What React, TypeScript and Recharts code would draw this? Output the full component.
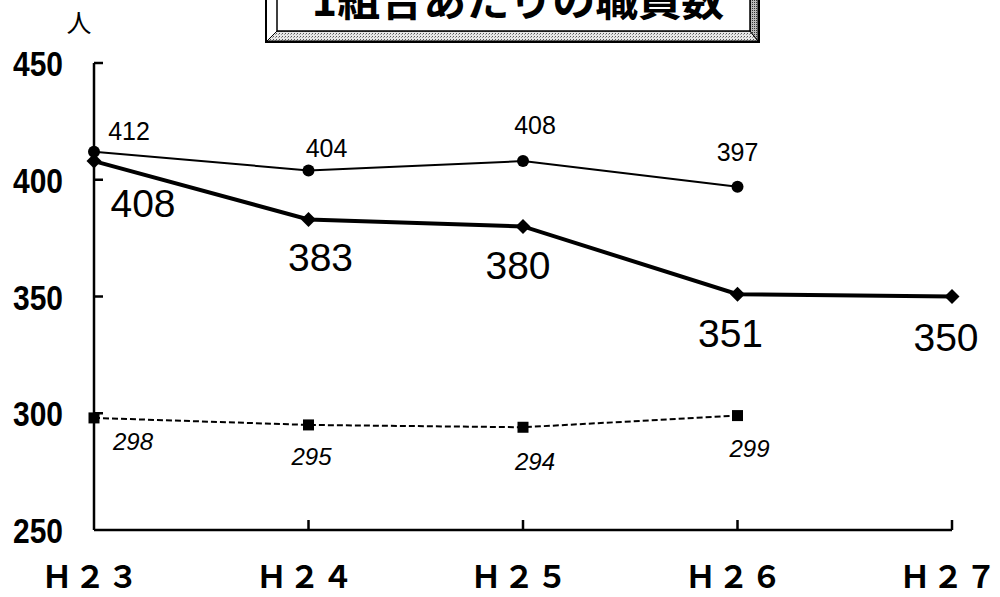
import React from 'react';
import { LineChart, Line, XAxis, YAxis } from 'recharts';

// values
const years = ['Ｈ２３', 'Ｈ２４', 'Ｈ２５', 'Ｈ２６', 'Ｈ２７'];
const circleSeries = [412, 404, 408, 397, null];
const diamondSeries = [408, 383, 380, 351, 350];
const squareSeries = [298, 295, 294, 299, null];
const yTicks = [250, 300, 350, 400, 450];

// label nudges (px) relative to each point, per series
const circleLabelShift = [[35, -21], [18, -22], [12, -36], [0, -35]];
const diamondLabelShift = [[49, 42], [12, 38], [-5, 39], [-7, 39], [-6, 41]];
const squareLabelShift = [[39, 24], [3, 32], [12, 34], [12, 33]];

const NUM_FONT = '"Liberation Sans", Arial, sans-serif';
const JP_FONT = '"Noto Sans CJK JP", sans-serif';

const data = years.map((year, i) => ({
  year,
  circle: circleSeries[i],
  diamond: diamondSeries[i],
  square: squareSeries[i],
}));

const makeLabel = (shift: number[][], size: number, italic = false) => (props: any) => {
  const { x, y, value, index } = props;
  if (value == null || !shift[index]) return null;
  const [dx, dy] = shift[index];
  return (
    <text
      x={x + dx}
      y={y + dy}
      textAnchor="middle"
      dominantBaseline="central"
      fontFamily={NUM_FONT}
      fontSize={size}
      fontStyle={italic ? 'italic' : 'normal'}
      fill="#000"
    >
      {value}
    </text>
  );
};

const CircleDot = (props: any) => {
  const { cx, cy, value } = props;
  if (value == null) return <g key={props.index} />;
  return <circle key={props.index} cx={cx} cy={cy} r={6} fill="#000" />;
};

const DiamondDot = (props: any) => {
  const { cx, cy } = props;
  const s = 7.5;
  return (
    <polygon
      key={props.index}
      points={`${cx},${cy - s} ${cx + s},${cy} ${cx},${cy + s} ${cx - s},${cy}`}
      fill="#000"
    />
  );
};

const SquareDot = (props: any) => {
  const { cx, cy, value } = props;
  if (value == null) return <g key={props.index} />;
  return <rect key={props.index} x={cx - 5.5} y={cy - 5.5} width={11} height={11} fill="#000" />;
};

const XTick = (props: any) => {
  const { x, y, payload, index } = props;
  return (
    <g>
      {index > 0 && <line x1={x} y1={y} x2={x} y2={y - 10} stroke="#000" strokeWidth={2.5} />}
      <text
        x={x - 3}
        y={y + 58}
        textAnchor="middle"
        fontFamily={JP_FONT}
        fontWeight={700}
        fontSize={31}
        letterSpacing={2}
        fill="#000"
      >
        {payload.value}
      </text>
    </g>
  );
};

const YTick = (props: any) => {
  const { x, y, payload } = props;
  return (
    <g>
      {payload.value !== 250 && <line x1={x} y1={y} x2={x + 9} y2={y} stroke="#000" strokeWidth={2.5} />}
      <text
        x={x - 31}
        y={y + 13}
        textAnchor="end"
        fontFamily={NUM_FONT}
        fontWeight={700}
        fontSize={35}
        textLength={50}
        lengthAdjust="spacingAndGlyphs"
        fill="#000"
      >
        {payload.value}
      </text>
    </g>
  );
};

const TitleBox = () => (
  <svg
    width={1000}
    height={597}
    style={{ position: 'absolute', left: 0, top: 0, pointerEvents: 'none' }}
  >
    <defs>
      <pattern id="stipple" width={3} height={3} patternUnits="userSpaceOnUse">
        <rect width={3} height={3} fill="#e6e6e6" />
        <rect width={1} height={1} fill="#555" />
        <rect x={2} y={1} width={1} height={1} fill="#999" />
      </pattern>
      <pattern id="stippleDark" width={2} height={2} patternUnits="userSpaceOnUse">
        <rect width={2} height={2} fill="#bbb" />
        <rect width={1} height={1} fill="#333" />
      </pattern>
    </defs>
    <rect x={266} y={-10} width={493} height={52} fill="#fff" stroke="#000" strokeWidth={2} />
    <polygon points="267,41 277,31 750,31 758,41" fill="url(#stipple)" stroke="#000" strokeWidth={1} />
    <polygon points="750,-10 758,-10 758,41 750,31" fill="url(#stippleDark)" stroke="#000" strokeWidth={1} />
    <rect x={277} y={-10} width={473} height={41} fill="#fff" stroke="#000" strokeWidth={1.5} />
    <text
      x={518}
      y={16}
      textAnchor="middle"
      fontFamily={JP_FONT}
      fontWeight={700}
      fontSize={43}
      fill="#000"
    >
      1組合あたりの職員数
    </text>
    <text x={79} y={32} textAnchor="middle" fontFamily={JP_FONT} fontSize={25} fill="#000">
      人
    </text>
  </svg>
);

export default function App() {
  return (
    <div
      style={{
        position: 'absolute',
        left: 0,
        top: 0,
        width: 1000,
        height: 597,
        background: '#fff',
        overflow: 'hidden',
      }}
    >
      <LineChart
        width={1000}
        height={597}
        data={data}
        margin={{ top: 63, right: 48, left: 10, bottom: 0 }}
      >
        <XAxis
          dataKey="year"
          height={67}
          interval={0}
          tickLine={false}
          tickSize={0}
          tickMargin={0}
          axisLine={{ stroke: '#000', strokeWidth: 2.5 }}
          tick={XTick}
        />
        <YAxis
          width={84}
          domain={[250, 450]}
          ticks={yTicks}
          interval={0}
          tickLine={false}
          tickSize={0}
          tickMargin={0}
          axisLine={{ stroke: '#000', strokeWidth: 2.5 }}
          tick={YTick}
        />
        <Line
          dataKey="square"
          stroke="#000"
          strokeWidth={2}
          strokeDasharray="6 3"
          dot={SquareDot}
          activeDot={false}
          label={makeLabel(squareLabelShift, 24, true)}
          isAnimationActive={false}
        />
        <Line
          dataKey="circle"
          stroke="#000"
          strokeWidth={2}
          dot={CircleDot}
          activeDot={false}
          label={makeLabel(circleLabelShift, 25)}
          isAnimationActive={false}
        />
        <Line
          dataKey="diamond"
          stroke="#000"
          strokeWidth={4}
          dot={DiamondDot}
          activeDot={false}
          label={makeLabel(diamondLabelShift, 39)}
          isAnimationActive={false}
        />
      </LineChart>
      <TitleBox />
    </div>
  );
}
